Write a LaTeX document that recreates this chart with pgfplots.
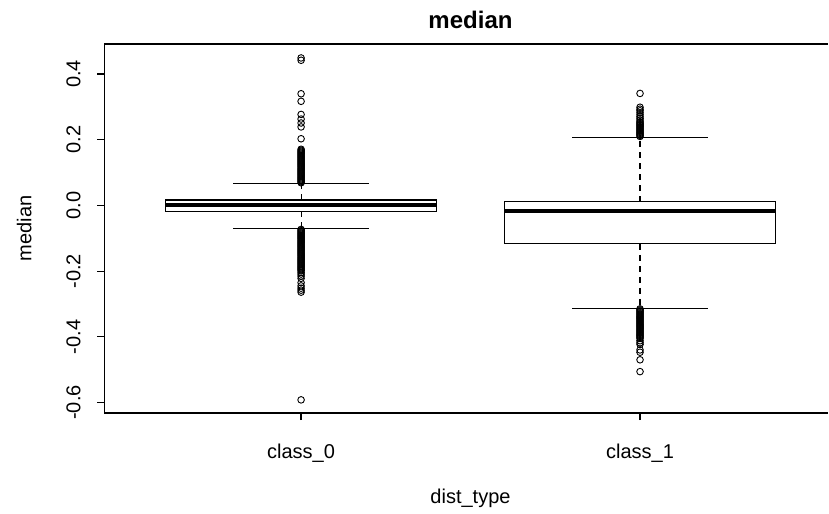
\documentclass[border=0pt]{standalone}
\usepackage{fontspec}
\setmainfont{Liberation Sans}
\usepackage{pgfplots}
\pgfplotsset{compat=1.18}
\usepgfplotslibrary{statistics}

% R-style boxplot: dashed whisker stems, solid caps, thick median
\pgfplotsset{
  rbox/.style={
    black,
    mark=o,
    mark size=3.3bp,
    mark options={line width=0.9bp, black, fill=none, solid},
    boxplot/draw direction=y,
    boxplot/box extend=0.8,
    boxplot/whisker extend=0.4,
    boxplot/every box/.style={draw=black, line width=1.2bp, fill=white},
    boxplot/every median/.style={draw=black, line width=4bp},
    boxplot/draw/lower whisker/.code={
      \draw[black, line width=1.1bp, dash pattern=on 6bp off 5bp]
        (boxplot cs:\pgfplotsboxplotvalue{lower quartile})
        -- (boxplot cs:\pgfplotsboxplotvalue{lower whisker});
      \draw[black, line width=1.1bp]
        (boxplot whisker cs:\pgfplotsboxplotvalue{lower whisker},0)
        -- (boxplot whisker cs:\pgfplotsboxplotvalue{lower whisker},1);
    },
    boxplot/draw/upper whisker/.code={
      \draw[black, line width=1.1bp, dash pattern=on 6bp off 5bp]
        (boxplot cs:\pgfplotsboxplotvalue{upper quartile})
        -- (boxplot cs:\pgfplotsboxplotvalue{upper whisker});
      \draw[black, line width=1.1bp]
        (boxplot whisker cs:\pgfplotsboxplotvalue{upper whisker},0)
        -- (boxplot whisker cs:\pgfplotsboxplotvalue{upper whisker},1);
    },
  }
}

\begin{document}
\begin{tikzpicture}
% page frame
\path (-104.5bp,-101bp) rectangle (724.5bp,413bp);
\begin{axis}[
  at={(0bp,0bp)}, anchor=south west,
  scale only axis,
  width=723.5bp, height=369bp,
  xmin=0.42, xmax=2.5546,
  ymin=-0.632, ymax=0.4915,
  axis x line*=box, axis y line*=left,
  axis line style={black, line width=1.2bp},
  tick style={black, line width=1.2bp},
  major tick length=7bp,
  tick align=outside,
  xtick pos=left, ytick pos=left,
  xtick={1,2},
  xticklabels={class\_0, class\_1},
  ytick={-0.6,-0.4,-0.2,0,0.2,0.4},
  yticklabels={-0.6,-0.4,-0.2,0.0,0.2,0.4},
  every tick label/.append style={font=\fontsize{20bp}{24bp}\selectfont, inner sep=0pt},
  xticklabel style={anchor=base, yshift=-38bp},
  yticklabel style={xshift=-17bp, anchor=base, rotate=90},
]
% class_0
\addplot[rbox, boxplot prepared={
    draw position=1,
    median=0.000,
    lower quartile=-0.018,
    upper quartile=0.0165,
    lower whisker=-0.070,
    upper whisker=0.066}]
  table[row sep=\\, y index=0] {
    value\\
    0.069\\ 0.072\\ 0.075\\ 0.078\\ 0.081\\ 0.084\\ 0.087\\ 0.090\\ 0.093\\
    0.096\\ 0.099\\ 0.102\\ 0.105\\ 0.108\\ 0.111\\ 0.114\\ 0.117\\ 0.120\\
    0.123\\ 0.126\\ 0.129\\ 0.132\\ 0.135\\ 0.138\\ 0.141\\ 0.144\\ 0.147\\
    0.150\\ 0.153\\ 0.156\\ 0.159\\ 0.162\\ 0.165\\ 0.168\\ 0.171\\
    0.203\\ 0.239\\ 0.251\\ 0.263\\ 0.277\\ 0.317\\ 0.340\\ 0.442\\ 0.449\\
    -0.073\\ -0.076\\ -0.079\\ -0.082\\ -0.085\\ -0.088\\ -0.091\\ -0.094\\
    -0.097\\ -0.100\\ -0.103\\ -0.106\\ -0.109\\ -0.112\\ -0.115\\ -0.118\\
    -0.121\\ -0.124\\ -0.127\\ -0.130\\ -0.133\\ -0.136\\ -0.139\\ -0.142\\
    -0.145\\ -0.148\\ -0.151\\ -0.154\\ -0.157\\ -0.160\\ -0.163\\ -0.166\\
    -0.169\\ -0.172\\ -0.175\\ -0.178\\ -0.181\\ -0.184\\ -0.187\\ -0.190\\
    -0.193\\ -0.196\\ -0.199\\
    -0.204\\ -0.209\\ -0.215\\ -0.222\\ -0.235\\ -0.245\\ -0.252\\ -0.258\\
    -0.264\\ -0.592\\
  };
% class_1
\addplot[rbox, boxplot prepared={
    draw position=2,
    median=-0.018,
    lower quartile=-0.117,
    upper quartile=0.0113,
    lower whisker=-0.3125,
    upper whisker=0.207}]
  table[row sep=\\, y index=0] {
    value\\
    0.210\\ 0.213\\ 0.216\\ 0.219\\ 0.222\\ 0.225\\ 0.228\\ 0.231\\ 0.234\\
    0.237\\ 0.240\\ 0.243\\ 0.246\\ 0.249\\ 0.252\\ 0.255\\
    0.260\\ 0.265\\ 0.270\\ 0.276\\ 0.282\\ 0.288\\ 0.293\\ 0.299\\ 0.341\\
    -0.315\\ -0.318\\ -0.321\\ -0.324\\ -0.327\\ -0.330\\ -0.333\\ -0.336\\
    -0.339\\ -0.342\\ -0.345\\ -0.348\\ -0.351\\ -0.354\\ -0.357\\ -0.360\\
    -0.363\\ -0.366\\ -0.369\\ -0.372\\ -0.375\\ -0.378\\ -0.381\\ -0.384\\
    -0.387\\ -0.390\\ -0.393\\ -0.396\\ -0.399\\ -0.402\\ -0.405\\
    -0.412\\ -0.418\\ -0.423\\ -0.440\\ -0.447\\ -0.470\\ -0.506\\
  };
\end{axis}
% title and axis labels
\node[anchor=base, font=\fontsize{24bp}{28bp}\selectfont\bfseries] at (366bp,384bp) {median};
\node[anchor=base, font=\fontsize{20bp}{24bp}\selectfont] at (366bp,-90bp) {dist\_type};
\node[anchor=base, rotate=90, font=\fontsize{20bp}{24bp}\selectfont] at (-73bp,184.5bp) {median};
\end{tikzpicture}
\end{document}
